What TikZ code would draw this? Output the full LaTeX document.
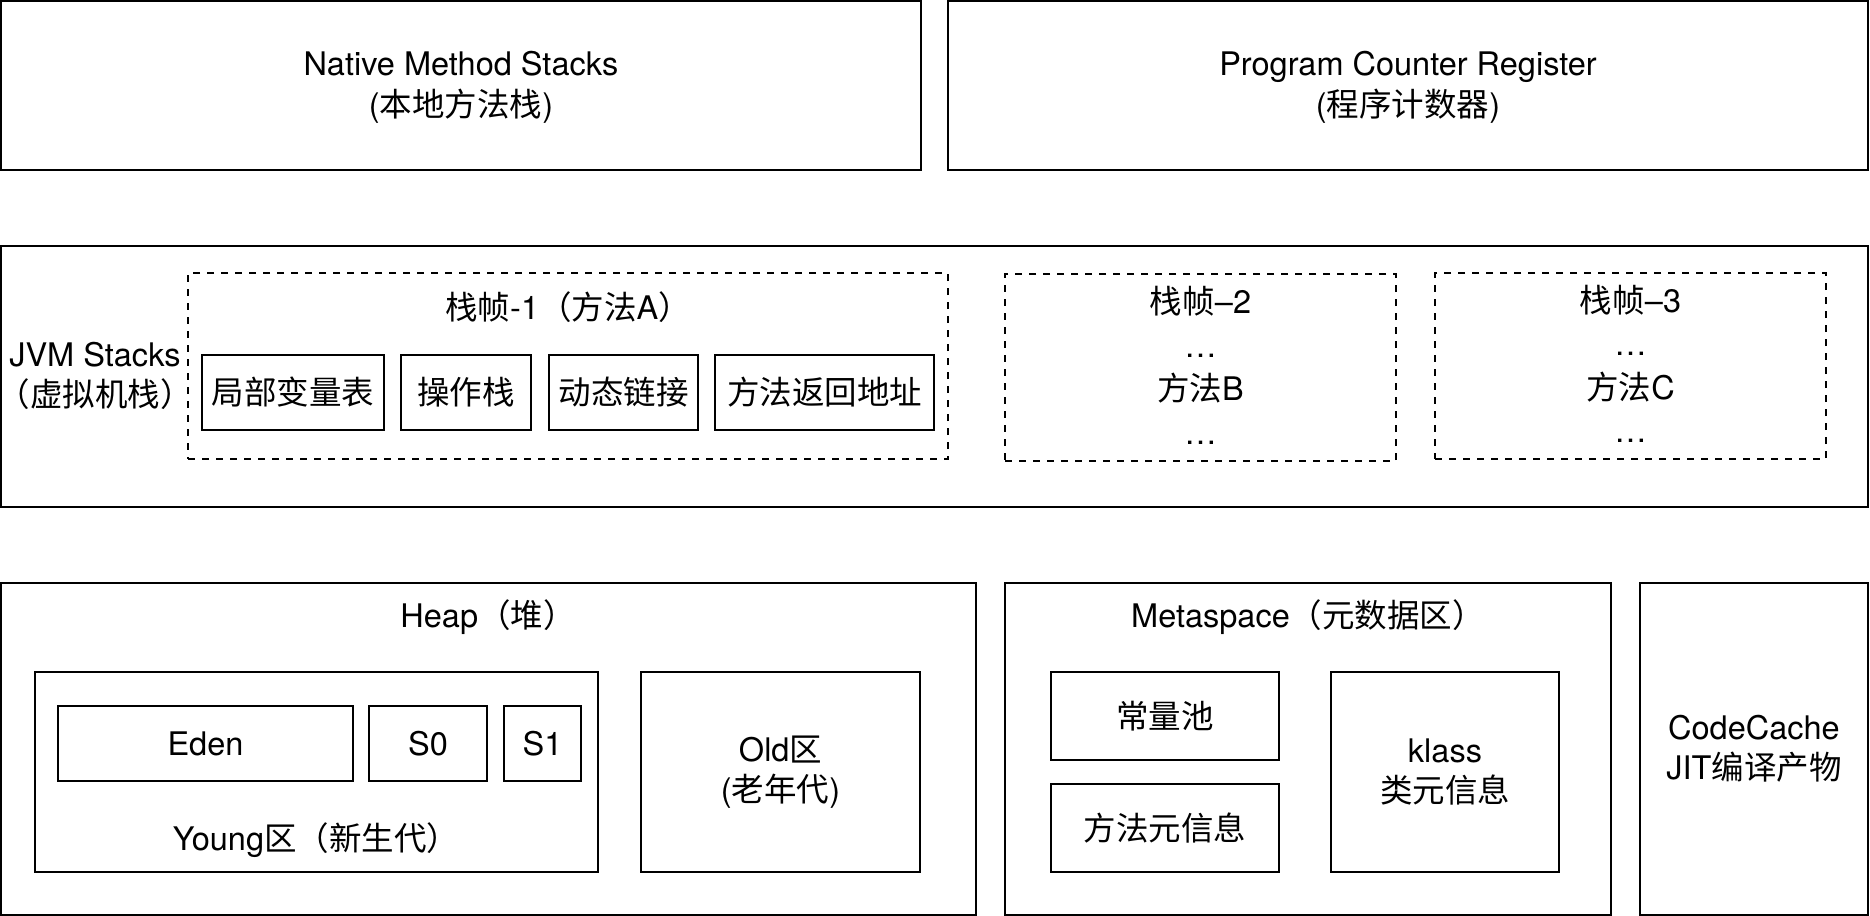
\documentclass[tikz,border=0pt]{standalone}
\usepackage{fontspec}
\setmainfont{TeX Gyre Heros}
\newfontfamily\cjk{Noto Sans CJK SC}
\usetikzlibrary{fit}
\newcommand{\zh}[1]{{\cjk #1}}
\newcommand{\fs}{\fontsize{16.25pt}{20.25pt}\selectfont}
\newcommand{\fsw}{\fontsize{16.25pt}{21.75pt}\selectfont}
\begin{document}
\begin{tikzpicture}[x=0.5pt,y=-0.5pt,
  box/.style={draw=black, line width=1pt, inner sep=0pt},
  dbox/.style={box, dash pattern=on 3.5pt off 3.5pt},
  lbl/.style={inner sep=0pt, align=center, font=\fs},
  wlbl/.style={lbl, font=\fsw}]
\useasboundingbox (0,0) rectangle (1870,916);
% top row
\node[box, fit={(1,1) (921,170)}] (native) {};
\node[lbl] (nativetext) at ([yshift=-1pt]native.center) {Native Method Stacks\\(\zh{本地方法栈})};
\node[box, fit={(948,1) (1868,170)}] (pc) {};
\node[lbl] (pctext) at ([yshift=-1pt]pc.center) {Program Counter Register\\(\zh{程序计数器})};
% JVM stacks
\node[box, fit={(1,246) (1868,507)}] (jvm) {};
\node[lbl] (jvmlabel) at (95,376) {JVM Stacks\\\zh{（虚拟机栈）}};
\node[dbox, fit={(188,273) (948,459)}] (f1) {};
\node[lbl] (f1label) at (568,307) {\zh{栈帧}-1\zh{（方法}A\zh{）}};
\node[box, fit={(202,355) (384,430)}] (lv) {};
\node[lbl] at (lv.center) {\zh{局部变量表}};
\node[box, fit={(401,355) (531,430)}] (os) {};
\node[lbl] at (os.center) {\zh{操作栈}};
\node[box, fit={(549,355) (698,430)}] (dl) {};
\node[lbl] at (dl.center) {\zh{动态链接}};
\node[box, fit={(715,355) (934,430)}] (ra) {};
\node[lbl] at (ra.center) {\zh{方法返回地址}};
\node[dbox, fit={(1005,274) (1396,461)}] (f2) {};
\node[wlbl] at ([yshift=1pt]f2.center) {\zh{栈帧}–2\\…\\\zh{方法}B\\…};
\node[dbox, fit={(1435,273) (1826,459)}] (f3) {};
\node[wlbl] at ([yshift=1pt]f3.center) {\zh{栈帧}–3\\…\\\zh{方法}C\\…};
% heap
\node[box, fit={(1,583) (976,915)}] (heap) {};
\node[lbl] (heaplabel) at (488,617) {Heap\zh{（堆）}};
\node[box, fit={(35,672) (598,872)}] (young) {};
\node[lbl] (younglabel) at (316,840) {Young\zh{区（新生代）}};
\node[box, fit={(58,706) (353,781)}] (eden) {};
\node[lbl] at (eden.center) {Eden};
\node[box, fit={(369,706) (487,781)}] (s0) {};
\node[lbl] at (s0.center) {S0};
\node[box, fit={(504,706) (581,781)}] (s1) {};
\node[lbl] at (s1.center) {S1};
\node[box, fit={(641,672) (920,872)}] (old) {};
\node[lbl] at (old.center) {Old\zh{区}\\(\zh{老年代})};
% metaspace
\node[box, fit={(1005,583) (1611,915)}] (meta) {};
\node[lbl] (metalabel) at (1308,617) {Metaspace\zh{（元数据区）}};
\node[box, fit={(1051,672) (1279,760)}] (cp) {};
\node[lbl] at (cp.center) {\zh{常量池}};
\node[box, fit={(1051,784) (1279,872)}] (mm) {};
\node[lbl] at (mm.center) {\zh{方法元信息}};
\node[box, fit={(1331,672) (1559,872)}] (klass) {};
\node[lbl] at (klass.center) {klass\\\zh{类元信息}};
% code cache
\node[box, fit={(1640,583) (1868,915)}] (cc) {};
\node[lbl] at (cc.center) {CodeCache\\JIT\zh{编译产物}};
\end{tikzpicture}
\end{document}
